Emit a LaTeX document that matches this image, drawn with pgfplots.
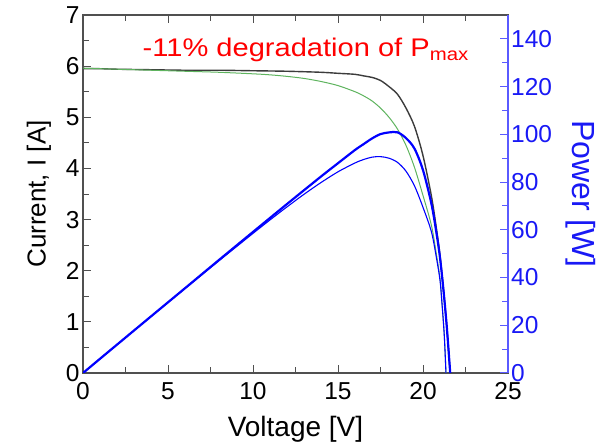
\documentclass[border=0pt]{standalone}
\usepackage{pgfplots}
\pgfplotsset{compat=1.18}
\usepackage{fontspec}
\setmainfont{Liberation Sans}
\definecolor{axblue}{RGB}{90,90,255}
\definecolor{pblue}{RGB}{0,0,255}
\definecolor{lblue}{RGB}{25,25,245}
\definecolor{ivgreen}{RGB}{95,180,95}
\definecolor{ivblack}{RGB}{60,60,60}
\definecolor{axblack}{RGB}{80,80,80}

\pgfplotstableread{
V I
0 5.96
1 5.95
2 5.94
4 5.92
6 5.90
8 5.88
10 5.85
11 5.83
12 5.80
13 5.76
14 5.70
15 5.62
16 5.50
16.5 5.42
17 5.32
17.5 5.18
18 5.00
18.5 4.77
19 4.45
19.5 4.02
20 3.47
20.5 2.88
20.8 2.30
21 1.85
21.1 1.45
21.25 0.75
21.35 0
}\greenIV

\pgfplotstableread{
V P
0 0
1 5.95
2 11.88
4 23.68
6 35.4
8 47.04
10 58.5
11 64.13
12 69.6
13 74.88
14 79.8
15 84.3
16 88.0
16.5 89.43
17 90.44
17.5 90.65
18 90.0
18.5 88.25
19 84.55
19.5 78.39
20 69.4
20.5 59.04
20.8 47.84
21 38.85
21.1 30.6
21.25 15.94
21.35 0
}\greenPV

\pgfplotstableread{
V I
0 5.95
1 5.95
2 5.94
4 5.93
6 5.92
8 5.92
10 5.91
12 5.90
14 5.88
15 5.86
16 5.84
16.5 5.81
17 5.78
17.5 5.72
18 5.60
18.5 5.45
19 5.18
19.5 4.82
20 4.25
20.5 3.45
20.8 2.80
21 2.30
21.2 1.65
21.4 0.90
21.6 0
}\blackIV

\pgfplotstableread{
V P
0 0
1 5.95
2 11.88
4 23.72
6 35.52
8 47.36
10 59.1
12 70.8
14 82.32
15 87.9
16 93.44
16.5 95.87
17 98.26
17.5 100.1
18 100.8
18.5 100.83
19 98.42
19.5 93.99
20 85.0
20.5 70.73
20.8 58.24
21 48.3
21.2 34.98
21.4 19.26
21.6 0
}\blackPV

\begin{document}
\begin{tikzpicture}
\begin{axis}[
  name=ax1,
  scale only axis, width=425pt, height=358pt,
  xmin=0, xmax=25, ymin=0, ymax=7,
  xtick={0,5,...,25}, ytick={0,1,...,7},
  minor x tick num=1, minor y tick num=1,
  xtick pos=both, ytick pos=left, xticklabel pos=lower,
  tick align=inside, major tick length=8pt, minor tick length=6pt,
  axis line style={axblack, line width=1.3pt},
  tick style={axblack, line width=1pt},
  ticklabel style={font=\fontsize{24.5}{24.5}\selectfont},
  xticklabel style={yshift=-8pt, inner sep=1pt},
  /pgf/number format/assume math mode=true,
  xlabel={Voltage [V]}, ylabel={Current, I [A]},
  xlabel style={font=\fontsize{28}{28}\selectfont, yshift=-12pt},
  ylabel style={font=\fontsize{26}{26}\selectfont, yshift=8pt},
]
\addplot[ivblack, line width=1.4pt, smooth] table[x=V,y=I] {\blackIV};
\addplot[ivgreen, line width=1pt, smooth] table[x=V,y=I] {\greenIV};
\node[anchor=base west, text=red, font=\fontsize{25.5}{25.5}\selectfont, inner sep=0pt, xscale=1.14]
  at (axis cs:3.5,6.18) {-11\% degradation of P\textsubscript{max}};
\end{axis}
\begin{axis}[
  name=ax2,
  scale only axis, width=425pt, height=358pt,
  xmin=0, xmax=25, ymin=0, ymax=150,
  axis x line=none, axis y line*=right,
  ytick={0,20,...,140}, minor y tick num=1,
  tick align=inside, major tick length=8pt, minor tick length=6pt,
  axis line style={axblue, line width=1.3pt},
  tick style={axblue, line width=1pt},
  yticklabel style={font=\fontsize{24.5}{24.5}\selectfont, text=lblue, inner sep=1pt, xshift=2pt},
  /pgf/number format/assume math mode=true,
  ylabel={Power [W]},
  ylabel style={font=\fontsize{32}{32}\selectfont, text=lblue, rotate=180, yshift=9pt},
]
\addplot[pblue, line width=1.1pt, smooth] table[x=V,y=P] {\greenPV};
\addplot[pblue, line width=2.2pt, smooth] table[x=V,y=P] {\blackPV};
\end{axis}
\pgfresetboundingbox
\path (ax1.south west) ++(-83pt,-73pt) rectangle ++(599pt,446pt);
\end{tikzpicture}
\end{document}
